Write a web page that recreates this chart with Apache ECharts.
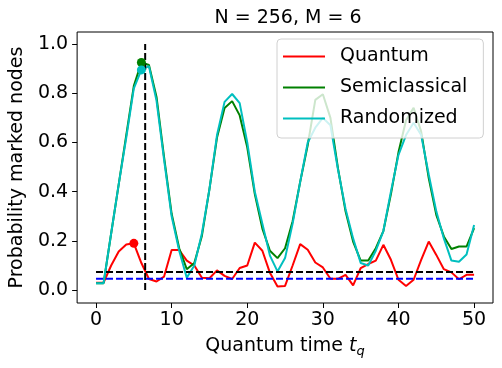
<!DOCTYPE html>
<html>
<head>
<meta charset="utf-8">
<script src="https://cdn.jsdelivr.net/npm/echarts@6/dist/echarts.min.js"></script>
<style>
  html, body { margin: 0; padding: 0; background: #fff; }
  #container { width: 502px; height: 368px; }
</style>
</head>
<body>
<div id="container"></div>
<script>
// data
var tq = [0, 1, 2, 3, 4, 5, 6, 7, 8, 9, 10, 11, 12, 13, 14, 15, 16, 17, 18, 19, 20,
          21, 22, 23, 24, 25, 26, 27, 28, 29, 30, 31, 32, 33, 34, 35, 36, 37, 38, 39, 40,
          41, 42, 43, 44, 45, 46, 47, 48, 49, 50];
var quantum = [0.03, 0.03, 0.10, 0.157, 0.185, 0.19, 0.11, 0.045, 0.035, 0.055, 0.163,
               0.163, 0.12, 0.10, 0.05, 0.048, 0.08, 0.058, 0.045, 0.09, 0.10,
               0.193, 0.16, 0.07, 0.015, 0.017, 0.10, 0.187, 0.164, 0.112, 0.092,
               0.046, 0.046, 0.062, 0.019, 0.089, 0.106, 0.12, 0.184, 0.123, 0.042,
               0.017, 0.042, 0.123, 0.197, 0.143, 0.085, 0.072, 0.044, 0.062, 0.062];
var semiclassical = [0.028, 0.028, 0.23, 0.43, 0.63, 0.83, 0.925, 0.915, 0.785, 0.54, 0.31,
                     0.17, 0.085, 0.11, 0.22, 0.41, 0.62, 0.74, 0.768, 0.71, 0.58,
                     0.39, 0.25, 0.16, 0.13, 0.17, 0.28, 0.44, 0.59, 0.773, 0.796,
                     0.70, 0.495, 0.32, 0.197, 0.12, 0.12, 0.17, 0.24, 0.39, 0.56,
                     0.69, 0.741, 0.644, 0.455, 0.306, 0.218, 0.167, 0.177, 0.177, 0.252];
var randomized = [0.028, 0.028, 0.23, 0.43, 0.62, 0.82, 0.895, 0.91, 0.77, 0.53, 0.30,
                  0.16, 0.05, 0.10, 0.23, 0.41, 0.63, 0.765, 0.797, 0.76, 0.60,
                  0.40, 0.27, 0.14, 0.076, 0.13, 0.27, 0.44, 0.60, 0.66, 0.70,
                  0.67, 0.49, 0.33, 0.21, 0.11, 0.10, 0.16, 0.24, 0.40, 0.55,
                  0.63, 0.68, 0.63, 0.47, 0.32, 0.21, 0.12, 0.115, 0.145, 0.265];
var blackLevel = 0.073;
var blueLevel = 0.046;
var tOpt = 6.5;
var quantumMax = [5, 0.19];
var semiMax = [6, 0.925];
var randMax = [6, 0.895];
var xTicks = [0, 10, 20, 30, 40, 50];
var yTicks = [0, 0.2, 0.4, 0.6, 0.8, 1.0];

function pairs(ys) {
   return tq.map(function (t, i) { return [t, ys[i]]; });
}

var dom = document.getElementById('container');
var myChart = echarts.init(dom, null, { renderer: 'canvas' });

var font = 'DejaVu Sans';
var dash = [7, 3];

var option = {
   animation: false,
   textStyle: { fontFamily: font },
   title: {
      text: 'N = 256, M = 6',
      left: 283,
      top: 4,
      textAlign: 'center',
      textStyle: { fontFamily: font, fontSize: 19, fontWeight: 'normal', color: '#000' }
   },
   grid: {
      left: 74, right: 9, top: 32, bottom: 65,
      show: true, borderColor: '#000', borderWidth: 1, backgroundColor: 'transparent'
   },
   legend: {
      data: ['Quantum', 'Semiclassical', 'Randomized'],
      orient: 'vertical',
      left: 277,
      top: 39,
      padding: [8, 16, 10, 6],
      itemGap: 12,
      itemWidth: 42,
      itemHeight: 2,
      icon: 'rect',
      backgroundColor: 'rgba(255,255,255,0.8)',
      borderColor: '#d0d0d0',
      borderWidth: 1,
      borderRadius: 4,
      textStyle: { fontFamily: font, fontSize: 19, color: '#000', padding: [0, 0, 0, 10] }
   },
   xAxis: {
      type: 'value',
      min: -2.5,
      max: 52.5,
      name: '{a|Quantum time }{b|t}{c|q}',
      nameLocation: 'middle',
      nameGap: 32,
      nameTextStyle: {
         rich: {
            a: { fontFamily: font, fontSize: 19, color: '#000' },
            b: { fontFamily: font, fontSize: 19, fontStyle: 'italic', color: '#000' },
            c: { fontFamily: font, fontSize: 13, fontStyle: 'italic', color: '#000', padding: [10, 0, 0, 0] }
         }
      },
      axisLine: { show: false, onZero: false },
      splitLine: { show: false },
      axisTick: { show: true, length: 5, lineStyle: { color: '#000' }, customValues: xTicks },
      axisLabel: { fontFamily: font, fontSize: 19, color: '#000', margin: 8, customValues: xTicks }
   },
   yAxis: {
      type: 'value',
      min: -0.0525,
      max: 1.049,
      name: 'Probability marked nodes',
      nameLocation: 'middle',
      nameGap: 44,
      nameTextStyle: { fontFamily: font, fontSize: 19, color: '#000' },
      axisLine: { show: false, onZero: false },
      splitLine: { show: false },
      axisTick: { show: true, length: 5, lineStyle: { color: '#000' }, customValues: yTicks },
      axisLabel: {
         fontFamily: font, fontSize: 19, color: '#000', margin: 9, customValues: yTicks,
         formatter: function (v) { return v.toFixed(1); }
      }
   },
   series: [
      {
         name: 'Quantum', type: 'line', data: pairs(quantum), showSymbol: false, symbol: 'none',
         color: '#ff0000', lineStyle: { width: 2, color: '#ff0000' }, z: 2
      },
      {
         name: 'Semiclassical', type: 'line', data: pairs(semiclassical), showSymbol: false, symbol: 'none',
         color: '#008000', lineStyle: { width: 2, color: '#008000' }, z: 2
      },
      {
         name: 'Randomized', type: 'line', data: pairs(randomized), showSymbol: false, symbol: 'none',
         color: '#00bfbf', lineStyle: { width: 2, color: '#00bfbf' }, z: 2
      },
      {
         name: 'optimal', type: 'line', data: [[tOpt, 0], [tOpt, 1.0]], symbol: 'none',
         lineStyle: { width: 2, color: '#000', type: dash }, z: 3
      },
      {
         name: 'black level', type: 'line', data: [[0, blackLevel], [50, blackLevel]], symbol: 'none',
         lineStyle: { width: 2, color: '#000', type: dash }, z: 3
      },
      {
         name: 'blue level', type: 'line', data: [[0, blueLevel], [50, blueLevel]], symbol: 'none',
         lineStyle: { width: 2, color: '#0000ff', type: dash }, z: 3
      },
      {
         name: 'qmax', type: 'scatter', data: [quantumMax], symbolSize: 9,
         itemStyle: { color: '#ff0000', opacity: 1 }, z: 4
      },
      {
         name: 'smax', type: 'scatter', data: [semiMax], symbolSize: 9,
         itemStyle: { color: '#008000', opacity: 1 }, z: 4
      },
      {
         name: 'rmax', type: 'scatter', data: [randMax], symbolSize: 9,
         itemStyle: { color: '#00bfbf', opacity: 1 }, z: 4
      }
   ]
};

myChart.setOption(option);
window.addEventListener('resize', myChart.resize);
</script>
</body>
</html>
